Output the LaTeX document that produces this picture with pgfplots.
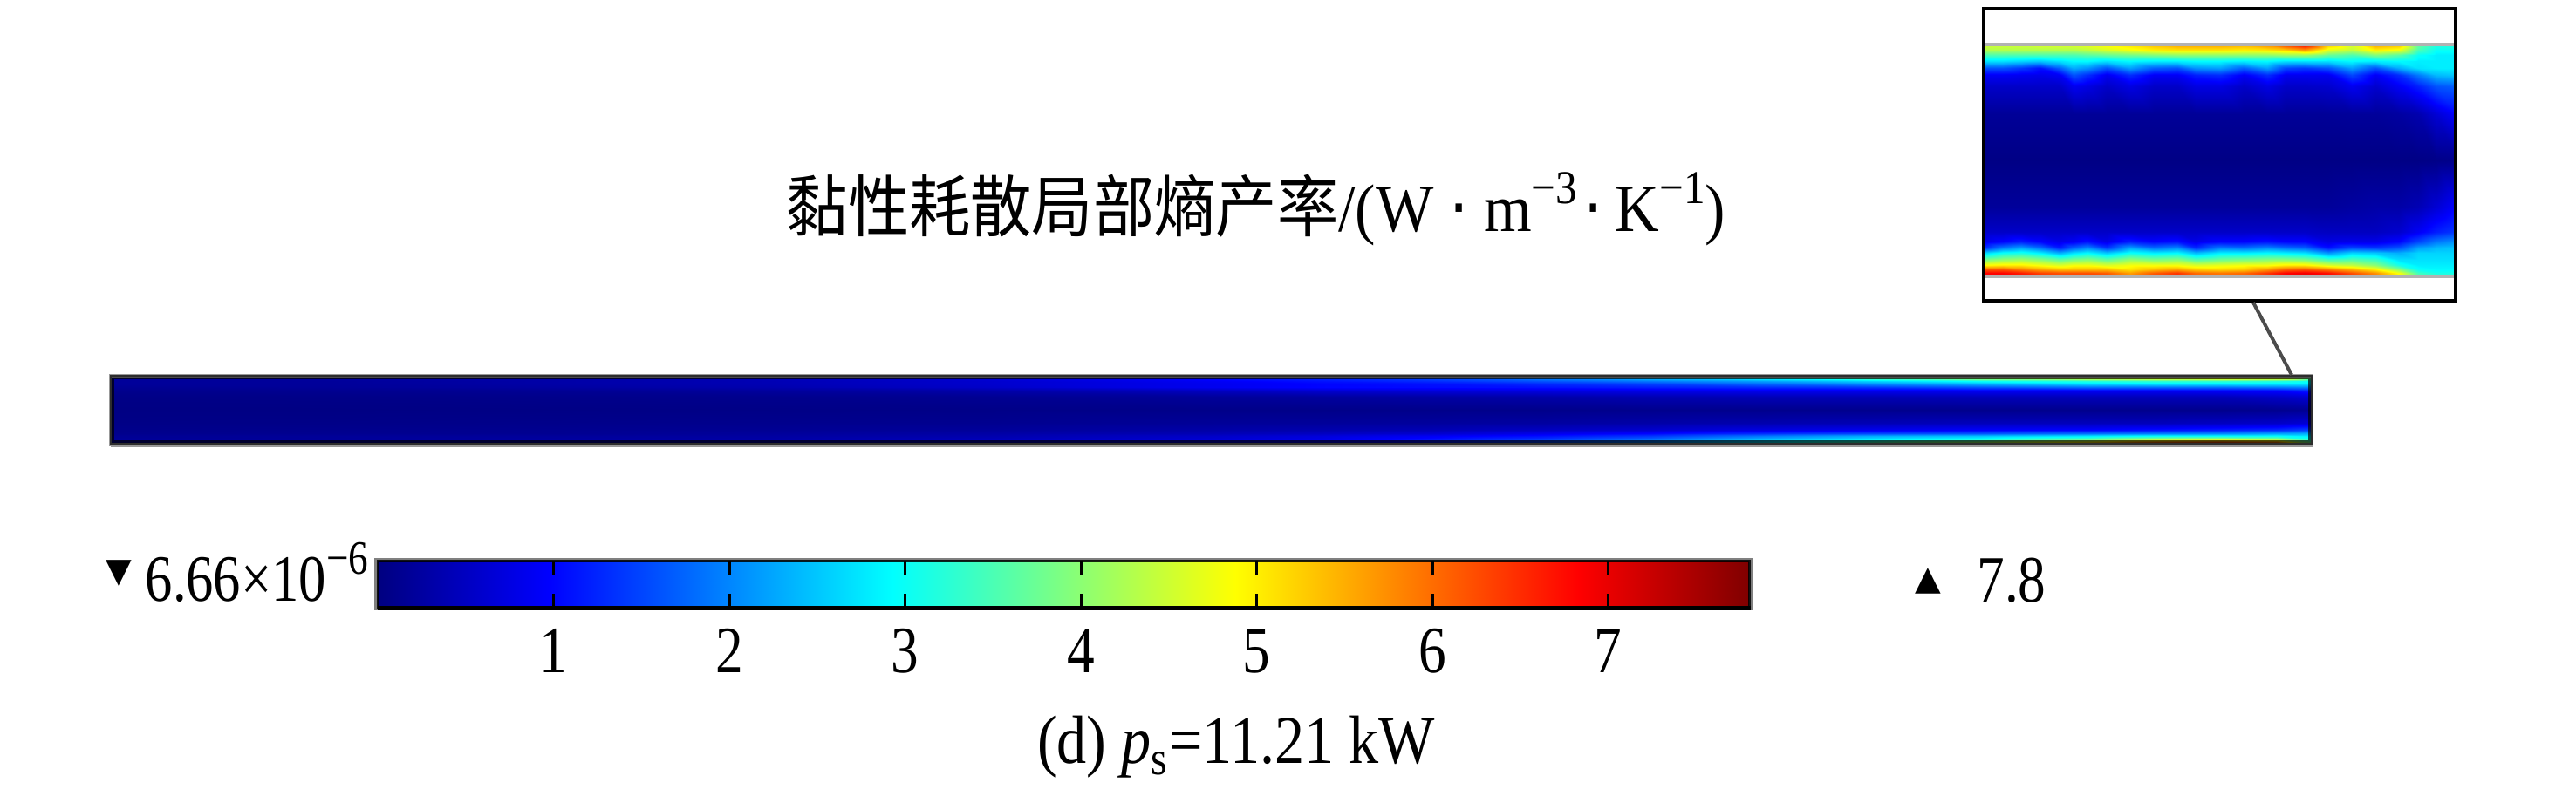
\documentclass[border=0pt]{standalone}
\usepackage{pgfplots}
\pgfplotsset{compat=1.18}
\usepackage{fontspec}
\setmainfont{Liberation Serif}
\newfontfamily\cjk{Noto Sans CJK SC}
\newfontfamily\sym{DejaVu Sans}
\pgfplotsset{
  colormap={cjet}{rgb255(0)=(0,0,128) rgb255(1)=(0,0,255) rgb255(3)=(0,255,255) rgb255(5)=(255,255,0) rgb255(7)=(255,0,0) rgb255(8)=(128,0,0)},
  heat/.style={scale only axis, anchor=south west, colormap name=cjet, point meta min=0, point meta max=7.8,
    xmin=0, xmax=1, xtick=\empty, ytick=\empty, axis on top, clip=true},
}
\begin{document}
\begin{tikzpicture}
\path[use as bounding box] (0,0) rectangle (29.53,9.21);

% main field
\draw[black!40,line width=0.03cm] (1.26,4.11) rectangle (26.50,4.90);
\begin{axis}[heat, at={(1.28cm,4.13cm)}, width=25.2cm, height=0.75cm, ymin=0, ymax=1,
  axis line style={draw=black, opacity=0.7, line width=0.05cm}]
\addplot[surf, shader=interp, mesh/cols=18, point meta=explicit] coordinates {
(0,0)[.2] (.1,0)[.2] (.2,0)[.25] (.3,0)[.3] (.4,0)[.45] (.5,0)[.7] (.55,0)[.9] (.6,0)[1.1] (.65,0)[1.5] (.7,0)[2] (.75,0)[2.8] (.8,0)[3.6] (.85,0)[4.4] (.9,0)[5.5] (.93,0)[6.5] (.96,0)[6.8] (.985,0)[6.4] (1,0)[4]
(0,.05)[.2] (.1,.05)[.2] (.2,.05)[.25] (.3,.05)[.3] (.4,.05)[.45] (.5,.05)[.65] (.55,.05)[.8] (.6,.05)[1.1] (.65,.05)[1.4] (.7,.05)[1.8] (.75,.05)[2.4] (.8,.05)[2.8] (.85,.05)[3.1] (.9,.05)[3.7] (.93,.05)[4.3] (.96,.05)[4.5] (.985,.05)[4.2] (1,.05)[3.2]
(0,.1)[.15] (.1,.1)[.18] (.2,.1)[.2] (.3,.1)[.25] (.4,.1)[.35] (.5,.1)[.55] (.55,.1)[.7] (.6,.1)[.9] (.65,.1)[1.1] (.7,.1)[1.4] (.75,.1)[1.9] (.8,.1)[2.3] (.85,.1)[2.5] (.9,.1)[2.8] (.93,.1)[3] (.96,.1)[3] (.985,.1)[3] (1,.1)[2.8]
(0,.15)[.1] (.1,.15)[.12] (.2,.15)[.13] (.3,.15)[.2] (.4,.15)[.28] (.5,.15)[.4] (.55,.15)[.5] (.6,.15)[.6] (.65,.15)[.8] (.7,.15)[1] (.75,.15)[1.3] (.8,.15)[1.5] (.85,.15)[1.6] (.9,.15)[1.8] (.93,.15)[1.9] (.96,.15)[2] (.985,.15)[2.2] (1,.15)[2.3]
(0,.2)[.08] (.1,.2)[.1] (.2,.2)[.12] (.3,.2)[.15] (.4,.2)[.2] (.5,.2)[.3] (.55,.2)[.35] (.6,.2)[.4] (.65,.2)[.5] (.7,.2)[.6] (.75,.2)[.75] (.8,.2)[.85] (.85,.2)[.95] (.9,.2)[1] (.93,.2)[1.1] (.96,.2)[1.2] (.985,.2)[1.3] (1,.2)[1.5]
(0,.3)[.05] (.1,.3)[.06] (.2,.3)[.08] (.3,.3)[.1] (.4,.3)[.12] (.5,.3)[.18] (.55,.3)[.2] (.6,.3)[.22] (.65,.3)[.25] (.7,.3)[.3] (.75,.3)[.35] (.8,.3)[.4] (.85,.3)[.45] (.9,.3)[.45] (.93,.3)[.45] (.96,.3)[.5] (.985,.3)[.55] (1,.3)[.65]
(0,.5)[.03] (.1,.5)[.03] (.2,.5)[.04] (.3,.5)[.05] (.4,.5)[.06] (.5,.5)[.07] (.55,.5)[.07] (.6,.5)[.08] (.65,.5)[.08] (.7,.5)[.1] (.75,.5)[.1] (.8,.5)[.1] (.85,.5)[.1] (.9,.5)[.1] (.93,.5)[.1] (.96,.5)[.1] (.985,.5)[.12] (1,.5)[.15]
(0,.7)[.05] (.1,.7)[.06] (.2,.7)[.08] (.3,.7)[.1] (.4,.7)[.14] (.5,.7)[.2] (.55,.7)[.24] (.6,.7)[.28] (.65,.7)[.32] (.7,.7)[.38] (.75,.7)[.42] (.8,.7)[.42] (.85,.7)[.45] (.9,.7)[.45] (.93,.7)[.45] (.96,.7)[.45] (.985,.7)[.55] (1,.7)[.65]
(0,.8)[.1] (.1,.8)[.12] (.2,.8)[.15] (.3,.8)[.22] (.4,.8)[.32] (.5,.8)[.5] (.55,.8)[.62] (.6,.8)[.7] (.65,.8)[.75] (.7,.8)[.8] (.75,.8)[.85] (.8,.8)[.85] (.85,.8)[.9] (.9,.8)[.9] (.93,.8)[.9] (.96,.8)[.95] (.985,.8)[1] (1,.8)[1.2]
(0,.85)[.15] (.1,.85)[.18] (.2,.85)[.25] (.3,.85)[.35] (.4,.85)[.55] (.5,.85)[.85] (.55,.85)[1] (.6,.85)[1.05] (.65,.85)[1.1] (.7,.85)[1.2] (.75,.85)[1.3] (.8,.85)[1.4] (.85,.85)[1.6] (.9,.85)[1.8] (.93,.85)[1.8] (.96,.85)[1.8] (.985,.85)[1.9] (1,.85)[2]
(0,.9)[.2] (.1,.9)[.2] (.2,.9)[.3] (.3,.9)[.4] (.4,.9)[.6] (.5,.9)[.85] (.55,.9)[1] (.6,.9)[1.1] (.65,.9)[1.3] (.7,.9)[1.5] (.75,.9)[1.8] (.8,.9)[2.1] (.85,.9)[2.4] (.9,.9)[2.7] (.93,.9)[2.8] (.96,.9)[2.8] (.985,.9)[2.8] (1,.9)[2.8]
(0,.95)[.2] (.1,.95)[.2] (.2,.95)[.3] (.3,.95)[.4] (.4,.95)[.6] (.5,.95)[.9] (.55,.95)[1.1] (.6,.95)[1.3] (.65,.95)[1.6] (.7,.95)[1.9] (.75,.95)[2.2] (.8,.95)[2.6] (.85,.95)[3] (.9,.95)[3.2] (.93,.95)[3.3] (.96,.95)[3.3] (.985,.95)[3.2] (1,.95)[3]
(0,1)[.2] (.1,1)[.25] (.2,1)[.3] (.3,1)[.45] (.4,1)[.7] (.5,1)[1.1] (.55,1)[1.3] (.6,1)[1.6] (.65,1)[2.1] (.7,1)[2.6] (.75,1)[3.1] (.8,1)[3.8] (.85,1)[4.5] (.9,1)[5] (.93,1)[5.2] (.96,1)[5.4] (.985,1)[5.3] (1,1)[4]
};
\end{axis}
\draw[black!40,line width=0.03cm] (1.27,4.09) -- (26.51,4.09);

% inset
\begin{axis}[heat, at={(22.74cm,5.76cm)}, width=5.41cm, height=3.35cm, ymin=-0.106, ymax=1.156,
  axis line style={draw=black, line width=0.045cm}]
\addplot[surf, shader=interp, mesh/cols=24, point meta=explicit] coordinates {
(0,0)[6.9] (.04,0)[6.9] (.08,0)[6.8] (.12,0)[6.6] (.16,0)[6.4] (.19,0)[6.4] (.22,0)[6.4] (.26,0)[6.4] (.31,0)[5.8] (.36,0)[6.4] (.41,0)[6.6] (.45,0)[6.2] (.5,0)[6.1] (.55,0)[6.2] (.6,0)[6.5] (.64,0)[6.9] (.68,0)[7] (.73,0)[6.9] (.78,0)[6.5] (.83,0)[6] (.88,0)[5] (.92,0)[3.6] (.96,0)[3.3] (1,0)[3.3]
(0,.015)[6.8] (.04,.015)[6.8] (.08,.015)[6.6] (.12,.015)[6.3] (.16,.015)[6.2] (.19,.015)[6.2] (.22,.015)[6.2] (.26,.015)[6.1] (.31,.015)[5.6] (.36,.015)[6.1] (.41,.015)[6.4] (.45,.015)[6] (.5,.015)[5.9] (.55,.015)[6] (.6,.015)[6.4] (.64,.015)[6.8] (.68,.015)[6.9] (.73,.015)[6.7] (.78,.015)[6.2] (.83,.015)[5.7] (.88,.015)[4.8] (.92,.015)[3.4] (.96,.015)[3.1] (1,.015)[3.1]
(0,.03)[6.2] (.04,.03)[6.2] (.08,.03)[5.9] (.12,.03)[5.6] (.16,.03)[5.4] (.19,.03)[5.4] (.22,.03)[5.4] (.26,.03)[5.4] (.31,.03)[5.1] (.36,.03)[5.4] (.41,.03)[5.6] (.45,.03)[5.3] (.5,.03)[5.2] (.55,.03)[5.3] (.6,.03)[5.7] (.64,.03)[6.1] (.68,.03)[6.2] (.73,.03)[5.9] (.78,.03)[5.5] (.83,.03)[5] (.88,.03)[4] (.92,.03)[3] (.96,.03)[2.9] (1,.03)[2.9]
(0,.05)[4.9] (.04,.05)[5] (.08,.05)[5] (.12,.05)[4.8] (.16,.05)[4.6] (.19,.05)[4.8] (.22,.05)[4.8] (.26,.05)[4.6] (.31,.05)[4.8] (.36,.05)[4.8] (.41,.05)[4.8] (.45,.05)[4.6] (.5,.05)[4.7] (.55,.05)[4.8] (.6,.05)[4.8] (.64,.05)[5] (.68,.05)[5] (.73,.05)[4.6] (.78,.05)[4.4] (.83,.05)[4] (.88,.05)[3.1] (.92,.05)[2.8] (.96,.05)[2.8] (1,.05)[2.8]
(0,.07)[3.9] (.04,.07)[4.1] (.08,.07)[4.2] (.12,.07)[4] (.16,.07)[3.7] (.19,.07)[3.9] (.22,.07)[4] (.26,.07)[3.7] (.31,.07)[4.1] (.36,.07)[3.9] (.41,.07)[4] (.45,.07)[3.6] (.5,.07)[3.8] (.55,.07)[3.9] (.6,.07)[4] (.64,.07)[4] (.68,.07)[3.9] (.73,.07)[3.5] (.78,.07)[3.6] (.83,.07)[3.4] (.88,.07)[2.7] (.92,.07)[2.7] (.96,.07)[2.7] (1,.07)[2.7]
(0,.1)[2.6] (.04,.1)[3] (.08,.1)[3.1] (.12,.1)[2.8] (.16,.1)[2.3] (.19,.1)[2.7] (.22,.1)[2.9] (.26,.1)[2.5] (.31,.1)[3] (.36,.1)[2.8] (.41,.1)[2.9] (.45,.1)[2.4] (.5,.1)[2.8] (.55,.1)[2.8] (.6,.1)[2.9] (.64,.1)[2.8] (.68,.1)[2.7] (.73,.1)[2.1] (.78,.1)[2.6] (.83,.1)[2.5] (.88,.1)[2.3] (.92,.1)[2.6] (.96,.1)[2.6] (1,.1)[2.6]
(0,.125)[1.3] (.04,.125)[1.9] (.08,.125)[2.2] (.12,.125)[1.8] (.16,.125)[1.2] (.19,.125)[1.7] (.22,.125)[2] (.26,.125)[1.4] (.31,.125)[2.2] (.36,.125)[1.8] (.41,.125)[2] (.45,.125)[1.3] (.5,.125)[1.9] (.55,.125)[1.8] (.6,.125)[2] (.64,.125)[1.8] (.68,.125)[1.7] (.73,.125)[1.1] (.78,.125)[1.5] (.83,.125)[1.4] (.88,.125)[1.6] (.92,.125)[2.2] (.96,.125)[2.4] (1,.125)[2.5]
(0,.15)[.8] (.04,.15)[1] (.08,.15)[1.2] (.12,.15)[1] (.16,.15)[.8] (.19,.15)[.9] (.22,.15)[1.1] (.26,.15)[.8] (.31,.15)[1.2] (.36,.15)[1] (.41,.15)[1.1] (.45,.15)[.8] (.5,.15)[1] (.55,.15)[1] (.6,.15)[1.1] (.64,.15)[1] (.68,.15)[1] (.73,.15)[.75] (.78,.15)[.8] (.83,.15)[.8] (.88,.15)[1] (.92,.15)[1.5] (.96,.15)[1.9] (1,.15)[2.1]
(0,.19)[.55] (.04,.19)[.55] (.08,.19)[.55] (.12,.19)[.55] (.16,.19)[.55] (.19,.19)[.55] (.22,.19)[.55] (.26,.19)[.55] (.31,.19)[.55] (.36,.19)[.55] (.41,.19)[.55] (.45,.19)[.55] (.5,.19)[.55] (.55,.19)[.55] (.6,.19)[.55] (.64,.19)[.55] (.68,.19)[.55] (.73,.19)[.5] (.78,.19)[.5] (.83,.19)[.5] (.88,.19)[.6] (.92,.19)[.9] (.96,.19)[1.2] (1,.19)[1.4]
(0,.3)[.2] (.04,.3)[.2] (.08,.3)[.2] (.12,.3)[.2] (.16,.3)[.2] (.19,.3)[.2] (.22,.3)[.2] (.26,.3)[.2] (.31,.3)[.2] (.36,.3)[.2] (.41,.3)[.2] (.45,.3)[.2] (.5,.3)[.2] (.55,.3)[.2] (.6,.3)[.2] (.64,.3)[.2] (.68,.3)[.2] (.73,.3)[.2] (.78,.3)[.25] (.83,.3)[.3] (.88,.3)[.3] (.92,.3)[.4] (.96,.3)[.65] (1,.3)[.95]
(0,.5)[.04] (.04,.5)[.04] (.08,.5)[.04] (.12,.5)[.04] (.16,.5)[.04] (.19,.5)[.04] (.22,.5)[.04] (.26,.5)[.04] (.31,.5)[.04] (.36,.5)[.04] (.41,.5)[.04] (.45,.5)[.04] (.5,.5)[.04] (.55,.5)[.04] (.6,.5)[.04] (.64,.5)[.04] (.68,.5)[.04] (.73,.5)[.04] (.78,.5)[.04] (.83,.5)[.04] (.88,.5)[.04] (.92,.5)[.04] (.96,.5)[.06] (1,.5)[.08]
(0,.7)[.18] (.04,.7)[.18] (.08,.7)[.18] (.12,.7)[.18] (.16,.7)[.18] (.19,.7)[.18] (.22,.7)[.18] (.26,.7)[.18] (.31,.7)[.18] (.36,.7)[.18] (.41,.7)[.18] (.45,.7)[.18] (.5,.7)[.18] (.55,.7)[.18] (.6,.7)[.18] (.64,.7)[.18] (.68,.7)[.18] (.73,.7)[.18] (.78,.7)[.2] (.83,.7)[.2] (.88,.7)[.25] (.92,.7)[.35] (.96,.7)[.65] (1,.7)[.95]
(0,.82)[.55] (.04,.82)[.55] (.08,.82)[.55] (.12,.82)[.55] (.16,.82)[.55] (.19,.82)[.85] (.22,.82)[.75] (.26,.82)[.55] (.31,.82)[.75] (.36,.82)[.55] (.41,.82)[.55] (.45,.82)[.75] (.5,.82)[.75] (.55,.82)[.55] (.6,.82)[.75] (.64,.82)[.55] (.68,.82)[.55] (.73,.82)[.6] (.78,.82)[.85] (.83,.82)[.6] (.88,.82)[.9] (.92,.82)[1.2] (.96,.82)[1.6] (1,.82)[1.7]
(0,.87)[.9] (.04,.87)[.9] (.08,.87)[.85] (.12,.87)[.8] (.16,.87)[.9] (.19,.87)[1.6] (.22,.87)[1.3] (.26,.87)[.85] (.31,.87)[1.3] (.36,.87)[.9] (.41,.87)[.9] (.45,.87)[1.2] (.5,.87)[1.3] (.55,.87)[.9] (.6,.87)[1.3] (.64,.87)[.85] (.68,.87)[.85] (.73,.87)[.85] (.78,.87)[1.5] (.83,.87)[.9] (.88,.87)[1.3] (.92,.87)[1.9] (.96,.87)[2.4] (1,.87)[2.5]
(0,.9)[1.6] (.04,.9)[1.6] (.08,.9)[1.4] (.12,.9)[1.1] (.16,.9)[1.7] (.19,.9)[2.3] (.22,.9)[2.1] (.26,.9)[1.6] (.31,.9)[2.2] (.36,.9)[1.7] (.41,.9)[1.6] (.45,.9)[2.1] (.5,.9)[2.2] (.55,.9)[1.7] (.6,.9)[2.2] (.64,.9)[1.5] (.68,.9)[1.4] (.73,.9)[1.6] (.78,.9)[2.2] (.83,.9)[1.6] (.88,.9)[2.3] (.92,.9)[2.7] (.96,.9)[2.8] (1,.9)[2.8]
(0,.93)[2.7] (.04,.93)[2.7] (.08,.93)[2.6] (.12,.93)[2.5] (.16,.93)[2.7] (.19,.93)[2.9] (.22,.93)[2.9] (.26,.93)[2.7] (.31,.93)[2.9] (.36,.93)[2.8] (.41,.93)[2.8] (.45,.93)[2.9] (.5,.93)[2.9] (.55,.93)[2.8] (.6,.93)[2.9] (.64,.93)[2.7] (.68,.93)[2.7] (.73,.93)[2.7] (.78,.93)[2.9] (.83,.93)[2.8] (.88,.93)[2.9] (.92,.93)[2.8] (.96,.93)[2.8] (1,.93)[2.8]
(0,.956)[3.5] (.04,.956)[3.5] (.08,.956)[3.5] (.12,.956)[3.5] (.16,.956)[3.5] (.19,.956)[3.5] (.22,.956)[3.6] (.26,.956)[3.7] (.31,.956)[3.8] (.36,.956)[3.9] (.41,.956)[4] (.45,.956)[4] (.5,.956)[4] (.55,.956)[4] (.6,.956)[4] (.64,.956)[4.1] (.68,.956)[4.1] (.73,.956)[3.7] (.78,.956)[3.5] (.83,.956)[3.9] (.88,.956)[3.6] (.92,.956)[3] (.96,.956)[2.8] (1,.956)[2.8]
(0,.98)[4.3] (.04,.98)[4.3] (.08,.98)[4.3] (.12,.98)[4.3] (.16,.98)[4.3] (.19,.98)[4.3] (.22,.98)[4.4] (.26,.98)[4.6] (.31,.98)[4.8] (.36,.98)[5] (.41,.98)[5.1] (.45,.98)[5.1] (.5,.98)[5.1] (.55,.98)[5] (.6,.98)[5.1] (.64,.98)[5.3] (.68,.98)[5.7] (.73,.98)[4.7] (.78,.98)[4.4] (.83,.98)[5] (.88,.98)[4.8] (.92,.98)[3.5] (.96,.98)[3] (1,.98)[3]
(0,1)[4.5] (.04,1)[4.5] (.08,1)[4.5] (.12,1)[4.6] (.16,1)[4.6] (.19,1)[4.6] (.22,1)[4.7] (.26,1)[4.9] (.31,1)[5.1] (.36,1)[5.4] (.41,1)[5.6] (.45,1)[5.6] (.5,1)[5.6] (.55,1)[5.5] (.6,1)[5.8] (.64,1)[6.4] (.68,1)[6.9] (.73,1)[5.3] (.78,1)[4.6] (.83,1)[5.6] (.88,1)[5.4] (.92,1)[3.7] (.96,1)[3.2] (1,1)[3.2]
};
\draw[black!30,line width=0.04cm] (axis cs:0,1) -- (axis cs:1,1);
\draw[black!30,line width=0.04cm] (axis cs:0,0) -- (axis cs:1,0);
\end{axis}

% connector
\draw[black!70,line width=0.04cm] (25.83,5.74) -- (26.27,4.91);

% colour scale
\draw[black!50,line width=0.04cm] (4.31,2.23) rectangle (20.07,2.79);
\begin{axis}[heat, at={(4.33cm,2.24cm)}, width=15.72cm, height=0.53cm,
  xmin=0, xmax=7.8, ymin=0, ymax=1,
  axis line style={draw=black, opacity=0.85, line width=0.03cm},
  xtick={1,2,3,4,5,6,7},
  xticklabel={\scalebox{1}[1.2]{\pgfmathprintnumber{\tick}}},
  xtick pos=both, xticklabel pos=lower, tick align=inside,
  major tick length=0.16cm, tick style={black, line width=0.03cm},
  xticklabel style={font=\fontsize{18}{18}\selectfont, yshift=-0.12cm},
  /pgf/number format/assume math mode=true]
\addplot[surf, shader=interp, mesh/cols=7, point meta=explicit] coordinates {
(0,0)[0] (.975,0)[.975] (2.925,0)[2.925] (4.875,0)[4.875] (6.825,0)[6.825] (7.5,0)[7.5] (7.8,0)[7.8]
(0,1)[0] (.975,1)[.975] (2.925,1)[2.925] (4.875,1)[4.875] (6.825,1)[6.825] (7.5,1)[7.5] (7.8,1)[7.8]
};
\end{axis}
\draw[black,line width=0.05cm] (4.33,2.23) -- (20.07,2.23);

% texts
\node[anchor=center,inner sep=0pt] at (14.40,6.81)
  {\scalebox{1}[1.1]{{\cjk\fontsize{20}{20}\selectfont 黏性耗散局部熵产率}{\fontsize{20}{20}\selectfont/(W\hspace{0.25em}{\sym·}\hspace{0.25em}m\raisebox{0.42em}{\fontsize{14}{14}\selectfont −3}\hspace{0.1em}{\sym·}\hspace{0.2em}K\raisebox{0.42em}{\fontsize{14}{14}\selectfont −1})}}};
\node[anchor=base west,inner sep=0pt] at (1.66,2.31)
  {\scalebox{0.99}[1.2]{\fontsize{18}{18}\selectfont 6.66×10\raisebox{0.42em}{\fontsize{13}{13}\selectfont −6}}};
\node[inner sep=0pt] at (1.36,2.64) {\sym\fontsize{11}{11}\selectfont ▼};
\node[inner sep=0pt] at (22.10,2.55) {\sym\fontsize{11}{11}\selectfont ▲};
\node[inner sep=0pt] at (23.06,2.55) {\scalebox{1}[1.2]{\fontsize{18}{18}\selectfont 7.8}};
\node[inner sep=0pt] at (14.17,0.64) {\scalebox{1}[1.15]{\fontsize{19.4}{19.4}\selectfont (d) \textit{p}\textsubscript{s}=11.21 kW}};
\end{tikzpicture}
\end{document}
